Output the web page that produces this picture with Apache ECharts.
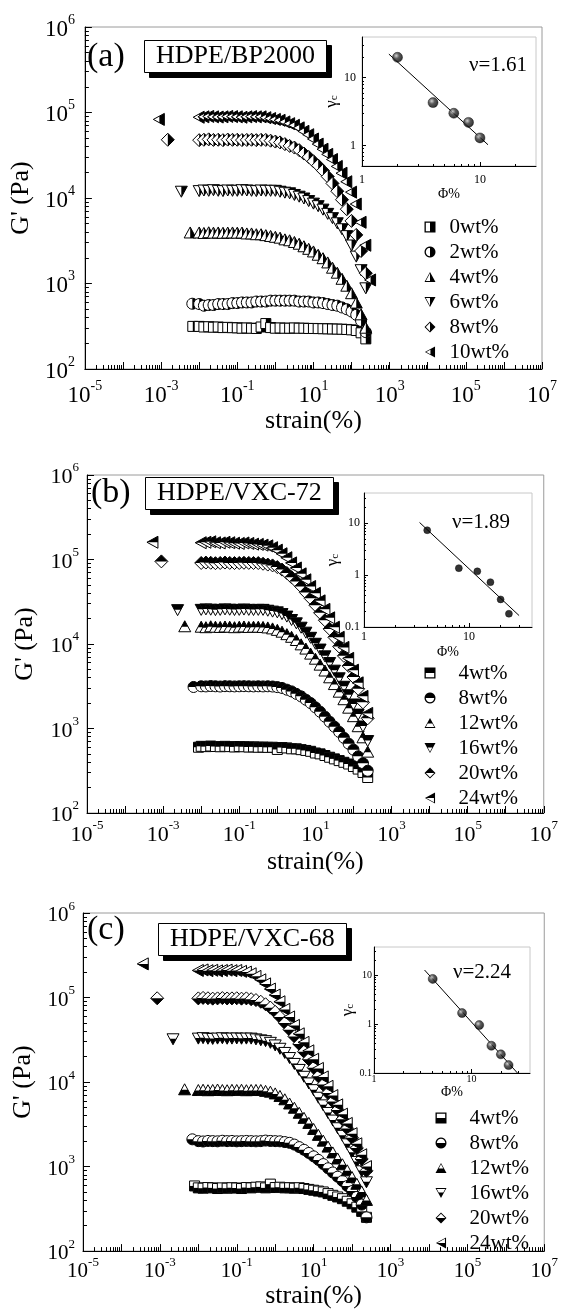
<!DOCTYPE html>
<html>
<head>
<meta charset="utf-8">
<script src="https://cdn.jsdelivr.net/npm/echarts@6/dist/echarts.min.js"></script>
<style>
html, body { margin: 0; padding: 0; background: #fff; }
#plot { width: 561px; height: 1310px; }
</style>
</head>
<body>
<div id="plot"></div>
<script>
var FONT = 'Liberation Serif, "Times New Roman", "DejaVu Serif", serif';

// strain (%) steps of the sweeps
var strain = [0.01, 0.0133, 0.0178, 0.0237, 0.0316, 0.0422, 0.0562, 0.075, 0.1, 0.133, 0.178, 0.237,
  0.316, 0.422, 0.562, 0.75, 1, 1.33, 1.78, 2.37, 3.16, 4.22, 5.62, 7.5, 10, 13.3, 17.8, 23.7,
  31.6, 42.2, 56.2, 75, 100, 133, 178, 237, 316];

// (a) HDPE/BP2000, G' (Pa)
var aNames = ['0wt%', '2wt%', '4wt%', '6wt%', '8wt%', '10wt%'];
var a0 = [315, 310, 312, 308, 310, 305, 307, 304, 303, 300, 302, 300, 298, 310, 340, 305, 300, 302, 300, 300, 302, 300, 300, 298, 298, 297, 296, 295, 294, 293, 292, 290, 287, 282, 265, 225, null];
var a2 = [575, 550, 560, 560, 575, 575, 575, 590, 590, 600, 600, 600, 615, 615, 615, 630, 630, 630, 630, 630, 630, 615, 615, 615, 600, 600, 590, 575, 560, 550, 525, 500, 470, 430, 365, 270, null];
var a4 = [3900, 3850, 3920, 3880, 3900, 3870, 3890, 3900, 3880, 3890, 3800, 3800, 3720, 3720, 3630, 3550, 3470, 3390, 3240, 3160, 3020, 2880, 2690, 2510, 2340, 2140, 1950, 1740, 1510, 1320, 1120, 930, 760, 590, 430, 300, null];
var a6 = [12200, 12400, 12300, 12500, 12300, 12200, 12400, 12300, 12300, 12500, 12400, 12300, 12200, 12400, 12300, 12300, 12300, 12000, 11700, 11500, 11000, 10500, 10000, 9330, 8710, 8130, 7410, 6610, 5890, 5130, 4370, 3630, 2820, 2090, 1450, 890, null];
var a8 = [47500, 48000, 48500, 47800, 48000, 47500, 48200, 47900, 48000, 47600, 47800, 48000, 47500, 47900, 47800, 46800, 45700, 44700, 42700, 40700, 38900, 36300, 33100, 30200, 26900, 24000, 20900, 17800, 14800, 12000, 9550, 7400, 5400, 3700, 2400, 1320, null];
var a10 = [88000, 89000, 90000, 89000, 88500, 89000, 90000, 89500, 89000, 88000, 89000, 89500, 89000, 89000, 87000, 85000, 83000, 81000, 77600, 74100, 70800, 66100, 60300, 55000, 49000, 42700, 37200, 32400, 28200, 23400, 19500, 15500, 11700, 8500, 5200, 2800, 1100];
// lone first point of each sweep [strain, G']
var aFirst = [[0.0068, 315], [0.0066, 580], [0.0058, 3900], [0.0034, 12000], [0.0015, 48000], [0.0009, 83000]];
var aPhi = [2, 4, 6, 8, 10];
var aGc = [20, 4.3, 3.0, 2.2, 1.3];
var aFit = [[1.69, 22.3], [11.7, 1.03]];

// (b) HDPE/VXC-72
var bNames = ['4wt%', '8wt%', '12wt%', '16wt%', '20wt%', '24wt%'];
var b4 = [615, 610, 620, 612, 608, 615, 610, 605, 612, 608, 604, 606, 600, 603, 598, 600, 565, 595, 589, 575, 575, 562, 550, 537, 513, 501, 479, 457, 437, 417, 398, 380, 355, 331, 302, 263, null];
var b8 = [3160, 3150, 3180, 3160, 3140, 3170, 3160, 3150, 3160, 3170, 3160, 3150, 3160, 3150, 3160, 3140, 3090, 3020, 2880, 2750, 2570, 2400, 2190, 2000, 1780, 1580, 1380, 1200, 1050, 912, 776, 661, 562, 468, 389, 316, null];
var b12 = [15800, 15600, 16000, 15800, 15700, 15900, 15800, 15600, 15800, 15900, 15700, 15800, 15800, 15700, 15500, 15100, 14500, 13800, 12900, 12000, 11000, 9770, 8710, 7590, 6610, 5620, 4790, 3980, 3310, 2690, 2190, 1740, 1380, 1050, 776, 525, null];
var b16 = [25700, 26000, 25800, 25500, 25700, 26000, 25800, 25600, 25700, 25900, 25700, 25600, 25700, 25700, 25100, 24500, 24000, 22900, 21400, 19500, 17800, 15800, 13800, 12000, 10200, 8710, 7240, 6030, 4900, 3980, 3160, 2510, 1950, 1480, 1070, 720, null];
var b20 = [91000, 92000, 91500, 90500, 91000, 92000, 91200, 90800, 91000, 91500, 91200, 91000, 90800, 89100, 87100, 85100, 81300, 75900, 69200, 61700, 55000, 47900, 40700, 34700, 28800, 23400, 19100, 15100, 12000, 9330, 7240, 5500, 4070, 2950, 2040, 1320, null];
var b24 = [158000, 160000, 162000, 158000, 157000, 160000, 158000, 156000, 155000, 157000, 155000, 152000, 151000, 148000, 145000, 138000, 129000, 117000, 105000, 91200, 79400, 67600, 57500, 47900, 39800, 32400, 25700, 20400, 15800, 12000, 9120, 6760, 4900, 3470, 2400, 1510, null];
var bFirst = [[0.0085, 600], [0.0063, 3100], [0.0037, 16000], [0.0024, 25500], [0.0009, 95000], [0.00054, 160000]];
var bPhi = [4, 8, 12, 16, 20, 24];
var bGc = [7.3, 1.36, 1.18, 0.73, 0.34, 0.18];
var bFit = [[3.38, 10.3], [30, 0.166]];

// (c) HDPE/VXC-68
var cNames = ['4wt%', '8wt%', '12wt%', '16wt%', '20wt%', '24wt%'];
var c4 = [560, 555, 565, 560, 550, 560, 555, 562, 558, 550, 565, 560, 570, 575, 560, 620, 565, 570, 560, 562, 555, 562, 550, 537, 525, 513, 501, 479, 457, 437, 417, 389, 363, 331, 295, 251, null];
var c8 = [2000, 1980, 2010, 2000, 1990, 2020, 2000, 2010, 1990, 2000, 2010, 2000, 1990, 2000, 2030, 2010, 2000, 1990, 1950, 1910, 1820, 1700, 1580, 1450, 1320, 1200, 1070, 955, 851, 759, 676, 589, 513, 437, 355, 251, null];
var c12 = [7940, 8000, 7900, 7950, 8050, 7940, 7900, 7980, 7940, 8000, 7900, 7940, 7960, 7940, 7760, 7590, 7240, 6760, 6170, 5500, 4900, 4270, 3720, 3240, 2750, 2340, 2000, 1700, 1450, 1230, 1050, 891, 741, 617, 501, 398, null];
var c16 = [33100, 33500, 33000, 32800, 33100, 33400, 33000, 33100, 33200, 33000, 33100, 33100, 32400, 31600, 30900, 29500, 27500, 25100, 22400, 19500, 16600, 14100, 11700, 9770, 8130, 6610, 5370, 4370, 3550, 2880, 2340, 1860, 1480, 1150, 891, 661, null];
var c20 = [97700, 99000, 98000, 97000, 97700, 98500, 97500, 97700, 98000, 97000, 97700, 95500, 93300, 89100, 83200, 75900, 67600, 58900, 50100, 41700, 34700, 28200, 22900, 18600, 14800, 11700, 9330, 7410, 5890, 4680, 3630, 2820, 2190, 1660, 1230, 891, null];
var c24 = [209000, 212000, 208000, 210000, 207000, 209000, 211000, 208000, 209000, 204000, 200000, 191000, 178000, 162000, 145000, 126000, 107000, 89100, 72400, 58900, 46800, 37200, 29500, 23400, 18600, 14500, 11500, 8910, 6920, 5370, 4170, 3240, 2450, 1860, 1380, 1000, null];
var cFirst = [[0.008, 590], [0.007, 2100], [0.0044, 8100], [0.0022, 32500], [0.00085, 98000], [0.00037, 250000]];
var cPhi = [4, 8, 12, 16, 20, 24];
var cGc = [8.3, 1.67, 0.95, 0.36, 0.24, 0.145];
var cFit = [[3.3, 12.6], [29.6, 0.1]];

var shapeOrder = ['square', 'circle', 'up', 'down', 'diamond', 'left'];

// layout of the three panels
var panels = [
  { key: 'a', names: aNames, vals: [a0, a2, a4, a6, a8, a10], first: aFirst, half: 'right',
    phi: aPhi, gc: aGc, fit: aFit,
    grid: { left: 82, top: 27, width: 460, height: 342 },
    inset: { left: 362, top: 37, width: 174, height: 129 }, insetX: [0, 1.475], insetY: [-0.3, 1.6],
    font: 23, xMargin: 10, yMargin: 10, yNameGap: 46, xNameGap: 38,
    insetFont: 12, inXMargin: 8, inYMargin: 6, phiGap: 20, gcGap: 14, dot: 10, shaded: true,
    legend: { left: 424.5, top: 214.5, pad: 9 },
    tag: { text: '(a)', left: 87, top: 40 }, box: { text: 'HDPE/BP2000', left: 144, top: 41 },
    nu: { text: 'ν=1.61', left: 469, top: 55 } },
  { key: 'b', names: bNames, vals: [b4, b8, b12, b16, b20, b24], first: bFirst, half: 'top',
    phi: bPhi, gc: bGc, fit: bFit,
    grid: { left: 87, top: 475, width: 458, height: 338 },
    inset: { left: 364, top: 493, width: 168, height: 134 }, insetX: [0, 1.6], insetY: [-1, 1.58],
    font: 22, xMargin: 6, yMargin: 8, yNameGap: 49, xNameGap: 36,
    insetFont: 12, inXMargin: 4, inYMargin: 4, phiGap: 18, gcGap: 22, dot: 7, shaded: false,
    legend: { left: 424.5, top: 660.5, pad: 18 },
    tag: { text: '(b)', left: 91, top: 476 }, box: { text: 'HDPE/VXC-72', left: 145, top: 478 },
    nu: { text: 'ν=1.89', left: 452, top: 512 } },
  { key: 'c', names: cNames, vals: [c4, c8, c12, c16, c20, c24], first: cFirst, half: 'bottom',
    phi: cPhi, gc: cGc, fit: cFit,
    grid: { left: 83, top: 913, width: 466, height: 343 },
    inset: { left: 374, top: 947, width: 156, height: 126 }, insetX: [0, 1.6], insetY: [-1, 1.57],
    font: 21, xMargin: 5, yMargin: 8, yNameGap: 45, xNameGap: 28,
    insetFont: 10, inXMargin: 1, inYMargin: 2, phiGap: 8, gcGap: 18, dot: 9, shaded: true,
    legend: { left: 435.5, top: 1105.5, pad: 18 },
    tag: { text: '(c)', left: 87, top: 913 }, box: { text: 'HDPE/VXC-68', left: 158, top: 924 },
    nu: { text: 'ν=2.24', left: 453, top: 962 } }
];

// marker outlines, centred on 0,0
var circlePts = [];
for (var i = 0; i < 20; i++) circlePts.push([5.5 * Math.cos(i * Math.PI / 10), 5.5 * Math.sin(i * Math.PI / 10)]);
var SHAPES = {
  square: [[-5, -5], [5, -5], [5, 5], [-5, 5]],
  circle: circlePts,
  up: [[0, -6], [6, 5], [-6, 5]],
  down: [[-6, -5], [6, -5], [0, 6]],
  diamond: [[0, -6.5], [6.5, 0], [0, 6.5], [-6.5, 0]],
  left: [[-6, 0], [5, -6], [5, 6]]
};

function clipHalf(pts, half) {
  function inside(p) { return half === 'right' ? p[0] >= 0 : half === 'top' ? p[1] <= 0 : p[1] >= 0; }
  function cross(p, q) {
    var t = half === 'right' ? p[0] / (p[0] - q[0]) : p[1] / (p[1] - q[1]);
    return [p[0] + t * (q[0] - p[0]), p[1] + t * (q[1] - p[1])];
  }
  var out = [];
  for (var i = 0; i < pts.length; i++) {
    var cur = pts[i], prev = pts[(i + pts.length - 1) % pts.length];
    if (inside(cur)) {
      if (!inside(prev)) out.push(cross(prev, cur));
      out.push(cur);
    } else if (inside(prev)) {
      out.push(cross(prev, cur));
    }
  }
  return out;
}

function ring(pts) {
  return 'M' + pts.map(function (p) { return p[0].toFixed(2) + ' ' + p[1].toFixed(2); }).join(' L') + ' Z';
}
function iconPath(shape, half) {
  var full = SHAPES[shape];
  var inner = full.map(function (p) { return [p[0] * 0.76, p[1] * 0.76]; }).reverse();
  return 'path://' + ring(full) + ' ' + ring(inner) + ' ' + ring(clipHalf(full, half));
}

function markerRender(shape, half) {
  var full = SHAPES[shape], part = clipHalf(full, half);
  return function (params, api) {
    var p = api.coord([api.value(0), api.value(1)]);
    return {
      type: 'group', x: p[0], y: p[1],
      children: [
        { type: 'polygon', shape: { points: full }, style: { fill: '#fff', stroke: '#000', lineWidth: 1 } },
        { type: 'polygon', shape: { points: part }, style: { fill: '#000' } }
      ]
    };
  };
}

function lg(v) { return Math.log(v) / Math.LN10; }
function decades(lo, hi) { var t = []; for (var e = Math.ceil(lo); e <= hi; e++) t.push(e); return t; }
function minors(lo, hi) {
  var t = [];
  for (var e = Math.floor(lo); e < hi; e++) {
    for (var k = 2; k < 10; k++) { var v = e + lg(k); if (v > lo && v < hi) t.push(v); }
  }
  return t;
}

function powLabel(v) { return '{b|10}{s|' + Math.round(v) + '}'; }
function plainLabel(v) { return { '-1': '0.1', '0': '1', '1': '10' }[String(Math.round(v))]; }

var option = {
  backgroundColor: '#fff', animation: false,
  grid: [], xAxis: [], yAxis: [], series: [], legend: [], title: []
};

function addAxes(dim, gi, range, cfg) {
  var isX = dim === 'x';
  var major = {
    type: 'value', gridIndex: gi, min: range[0], max: range[1],
    position: isX ? 'bottom' : 'left',
    axisLine: { show: true, onZero: false, lineStyle: { color: '#000', width: 1 } },
    axisTick: { show: true, inside: true, length: cfg.tick, customValues: decades(range[0], range[1]), lineStyle: { color: '#000' } },
    axisLabel: { show: true, customValues: cfg.labels, margin: cfg.margin, formatter: cfg.formatter,
      color: '#000', fontFamily: FONT, fontSize: cfg.font,
      rich: { b: { fontFamily: FONT, fontSize: cfg.font, color: '#000', padding: [5, 0, 0, 0] },
              s: { fontFamily: FONT, fontSize: Math.round(cfg.font * 0.6), color: '#000', verticalAlign: 'top' } } },
    splitLine: { show: false },
    name: cfg.name, nameLocation: 'middle', nameGap: cfg.nameGap, nameRotate: isX ? 0 : 90,
    nameTextStyle: cfg.nameStyle
  };
  var minor = {
    type: 'value', gridIndex: gi, min: range[0], max: range[1],
    position: isX ? 'bottom' : 'left',
    axisLine: { show: false, onZero: false },
    axisTick: { show: true, inside: true, length: cfg.minor, customValues: minors(range[0], range[1]), lineStyle: { color: '#000' } },
    axisLabel: { show: false }, splitLine: { show: false }
  };
  var list = isX ? option.xAxis : option.yAxis;
  list.push(major, minor);
  return list.length - 2;
}

var titleFont = { fontFamily: FONT, fontWeight: 'normal', color: '#000' };

panels.forEach(function (P) {
  var gMain = option.grid.length;
  option.grid.push({ left: P.grid.left, top: P.grid.top, width: P.grid.width, height: P.grid.height,
    show: true, borderColor: '#9a9a9a', borderWidth: 1, backgroundColor: 'transparent' });
  var gIn = option.grid.length;
  option.grid.push({ left: P.inset.left, top: P.inset.top, width: P.inset.width, height: P.inset.height,
    show: true, borderColor: '#c8c8c8', borderWidth: 1, backgroundColor: 'transparent' });

  var nameStyle = { fontFamily: FONT, fontSize: 26, color: '#000' };
  var xi = addAxes('x', gMain, [-5, 7], { tick: 7, minor: 4, labels: [-5, -3, -1, 1, 3, 5, 7], margin: P.xMargin,
    formatter: powLabel, font: P.font, name: 'strain(%)', nameGap: P.xNameGap, nameStyle: nameStyle });
  var yi = addAxes('y', gMain, [2, 6], { tick: 7, minor: 4, labels: [2, 3, 4, 5, 6], margin: P.yMargin,
    formatter: powLabel, font: P.font, name: "G' (Pa)", nameGap: P.yNameGap, nameStyle: nameStyle });

  var inXi = addAxes('x', gIn, P.insetX, { tick: 4, minor: 2, labels: decades(P.insetX[0], P.insetX[1]),
    margin: P.inXMargin, formatter: plainLabel, font: P.insetFont, name: 'Φ%', nameGap: P.phiGap,
    nameStyle: { fontFamily: FONT, fontSize: 14, color: '#000' } });
  var inYi = addAxes('y', gIn, P.insetY, { tick: 4, minor: 2, labels: decades(P.insetY[0], P.insetY[1]),
    margin: P.inYMargin, formatter: plainLabel, font: P.insetFont, name: '{g|γ}{c|c}', nameGap: P.gcGap,
    nameStyle: { rich: { g: { fontFamily: FONT, fontSize: 17, color: '#000' },
                         c: { fontFamily: FONT, fontSize: 11, color: '#000', verticalAlign: 'bottom' } } } });

  // G' sweeps
  P.names.forEach(function (n, si) {
    var pts = [[lg(P.first[si][0]), lg(P.first[si][1])]];
    P.vals[si].forEach(function (g, k) { if (g != null) pts.push([lg(strain[k]), lg(g)]); });
    option.series.push({
      type: 'custom', name: P.key + '|' + n, xAxisIndex: xi, yAxisIndex: yi,
      itemStyle: { color: '#000' }, encode: { x: 0, y: 1 },
      renderItem: markerRender(shapeOrder[si], P.half), data: pts, z: 3
    });
  });

  // inset: critical strain vs filler content
  var dotColor = P.shaded ? { type: 'radial', x: 0.38, y: 0.35, r: 0.62,
    colorStops: [{ offset: 0, color: '#c8c8c8' }, { offset: 0.45, color: '#333' }, { offset: 1, color: '#000' }] } : '#000';
  option.series.push({
    type: 'line', xAxisIndex: inXi, yAxisIndex: inYi, showSymbol: false, silent: true,
    lineStyle: { color: '#000', width: 1 }, data: P.fit.map(function (p) { return [lg(p[0]), lg(p[1])]; }), z: 3
  });
  option.series.push({
    type: 'scatter', xAxisIndex: inXi, yAxisIndex: inYi, symbolSize: P.dot, silent: true,
    itemStyle: { color: dotColor, borderColor: '#000', borderWidth: 0.5 },
    data: P.phi.map(function (f, i) { return [lg(f), lg(P.gc[i])]; }), z: 4
  });

  option.legend.push({
    orient: 'vertical', left: P.legend.left, top: P.legend.top, itemWidth: 11, itemHeight: 11, itemGap: 0,
    selectedMode: false, padding: 0,
    data: P.names.map(function (n, si) { return { name: P.key + '|' + n, icon: iconPath(shapeOrder[si], P.half) }; }),
    formatter: function (name) { return name.split('|')[1]; },
    itemStyle: { color: '#000', borderWidth: 0 },
    textStyle: { fontFamily: FONT, fontSize: 21, color: '#000', lineHeight: 25, padding: [0, 0, 0, P.legend.pad] }
  });

  option.title.push({ text: P.tag.text, left: P.tag.left, top: P.tag.top, padding: 0,
    textStyle: Object.assign({ fontSize: 34, lineHeight: 34 }, titleFont) });
  // black offset block behind the sample-name box (its text is invisible)
  option.title.push({ text: P.box.text, left: P.box.left + 5, top: P.box.top + 5, padding: [3, 12], z: 5,
    backgroundColor: '#000', borderColor: '#000', borderWidth: 1,
    textStyle: Object.assign({}, titleFont, { fontSize: 26, lineHeight: 25, color: 'rgba(0,0,0,0)' }) });
  option.title.push({ text: P.box.text, left: P.box.left, top: P.box.top, padding: [3, 12], z: 7,
    backgroundColor: '#fff', borderColor: '#000', borderWidth: 1,
    textStyle: Object.assign({ fontSize: 26, lineHeight: 25 }, titleFont) });
  option.title.push({ text: P.nu.text, left: P.nu.left, top: P.nu.top, padding: 0,
    textStyle: Object.assign({ fontSize: 21, lineHeight: 21 }, titleFont) });
});

var myChart = echarts.init(document.getElementById('plot'), null, { renderer: 'canvas' });
myChart.setOption(option);
</script>
</body>
</html>
